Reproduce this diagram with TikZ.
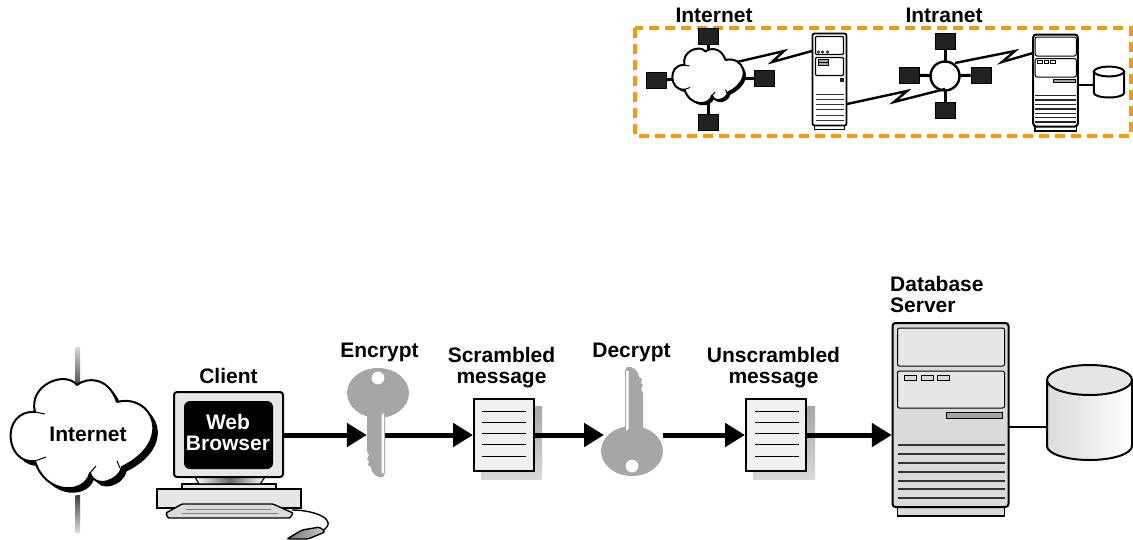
\documentclass[tikz,border=0pt]{standalone}
\usepackage{fontspec}
\setmainfont{Liberation Sans}
\usepackage{tikz}
\usetikzlibrary{positioning,arrows.meta,shapes.geometric}

\definecolor{dashorange}{HTML}{F79A0A}
\definecolor{keygray}{HTML}{A6A6A6}
\definecolor{boxgray}{HTML}{DADADA}
\definecolor{paneltone}{HTML}{E6E6E6}
\definecolor{squaretone}{HTML}{222222}

\tikzset{
    lbl/.style={font=\bfseries\fontsize{21}{21}\selectfont, align=center, inner sep=0pt},
    bigarrow/.style={line width=5pt, -{Triangle[length=20pt,width=23pt]}},
    zap/.style={line width=2.4pt, line join=miter},
    wire/.style={line width=2.2pt},
    spoke/.style={line width=3pt},
    rowline/.style={line width=1.2pt, black!80},
    square/.style={fill=squaretone, draw=black, line width=.6pt, minimum width=20pt, minimum height=16pt, inner sep=0pt},
    page/.style={draw=black, line width=2pt, fill=black!6, minimum width=60pt, minimum height=72pt, inner sep=0pt},
    cloudshape/.pic={
        \def\outline{(-47,-26) .. controls (-54,-53) and (-17,-68) .. (-5,-53)
            .. controls (3,-60) and (26,-63) .. (35,-36)
            .. controls (70,-45) and (93,3) .. (40,29)
            .. controls (38,42) and (13,52) .. (8,35)
            .. controls (3,57) and (-37,57) .. (-47,23)
            .. controls (-77,27) and (-82,-28) .. (-47,-26) -- cycle}
        \fill[black, shift={(4.5,4.5)}] \outline;
        \draw[fill=white, line width=2pt, line join=round] \outline;
        \draw[line width=1pt] (-47,-26) -- (-37,-24) (-47,23) -- (-36,19) (35,23) -- (38,30) (8,35) -- (14,28);
    },
    towerbox/.pic={
        \draw[line width=1.3pt, fill=boxgray] (-53,92) rectangle (54,101);
        \draw[line width=2pt, fill=boxgray, rounded corners=3pt] (-58,-92) rectangle (58,92);
        \draw[line width=1pt, fill=paneltone, rounded corners=2pt] (-53,-87) rectangle (54,-49);
        \draw[line width=1pt, fill=paneltone, rounded corners=2pt] (-53,-44) rectangle (54,-7);
        \foreach \bx in {-46,-29,-13}
            \draw[line width=1pt, fill=boxgray] (\bx,-40) rectangle ++(12,5);
        \draw[line width=1pt, fill=keygray] (-4,-3) rectangle (52,3);
        \foreach \by in {30,39,48,57,66,74,83}
            \draw[rowline] (-53,\by) -- (54,\by);
    },
    minitower/.pic={
        \draw[line width=1pt, fill=white] (-15,42) rectangle (15,48);
        \draw[line width=1.8pt, fill=white, rounded corners=2pt] (-17,-48) rectangle (17,44);
        \draw[line width=1.3pt, rounded corners=1pt] (-14,-45) rectangle (14,-27);
        \draw[line width=1.3pt, rounded corners=1pt] (-14,-24) rectangle (14,-6);
        \foreach \bx in {-11,-7,-2}
            \draw[line width=.6pt, fill=keygray] (\bx,-29.5) circle (1.3);
        \draw[line width=.6pt, fill=keygray] (-11,-22) rectangle (-1,-19) (-11,-19) rectangle (-1,-16);
        \fill[squaretone] (10,-4) rectangle (14,0);
        \foreach \by in {13,18,23,28,34,39}
            \draw[rowline] (-14,\by) -- (14,\by);
    },
    keyshape/.pic={
        \fill[keygray, even odd rule] (0,0) ellipse [x radius=31, y radius=25] (0,-15) circle (6.5);
        \fill[keygray] (-11,20) -- (-11,58) -- (-10,60) -- (-9,62) -- (-11,66) -- (-9,68) -- (-10,72)
            -- (-7,74) -- (-6,78) -- (-3,82) -- (1,84) -- (5,84) -- (7,80) -- (7,20) -- cycle;
        \fill[white] (3.5,22) -- (6,20) -- (6,80) -- (3.5,80) -- cycle;
    },
    can/.pic={
        \draw[line width=2pt, left color=boxgray, right color=white]
            (-42.5,0) -- (-42.5,66) arc [start angle=180, end angle=360, x radius=42.5, y radius=-14]
            -- (42.5,0) -- cycle;
        \draw[line width=2pt, fill=paneltone] (0,0) ellipse [x radius=42.5, y radius=15];
    }
}

\begin{document}
\begin{tikzpicture}[x=1pt,y=-1pt]
    \useasboundingbox (0,0) rectangle (1133,539);

    % top overview
    \draw[dashorange, line width=3.4pt, dash pattern=on 10pt off 6pt] (635,28) rectangle (1131,136);
    \node[lbl] (netcap) at (714,15) {Internet};
    \node[lbl] (intracap) at (944,15) {Intranet};

    \node[square] (sqa) at (708,36) {};
    \node[square] (sqb) at (656,80) {};
    \node[square] (sqc) at (764,78) {};
    \node[square] (sqd) at (708,122) {};
    \coordinate (netmid) at (708,78);
    \path[spoke]
        (sqa) edge (netmid)
        (sqb) edge (netmid)
        (sqc) edge (netmid)
        (sqd) edge (netmid);
    \pic[scale=.5] at (netmid) {cloudshape};

    \node[square] (sqe) at (945,41) {};
    \node[square] (sqf) at (909,75) {};
    \node[square] (sqg) at (981,75) {};
    \node[square] (sqh) at (945,110) {};
    \node[circle, minimum size=29pt, inner sep=0pt] (hub) at (945,76) {};
    \path[spoke]
        (sqe) edge (hub)
        (sqf) edge (hub)
        (sqg) edge (hub)
        (sqh) edge (hub);
    \node[circle, draw=black, line width=2.4pt, fill=white, minimum size=29pt, inner sep=0pt] at (hub) {};

    \pic at (829.5,81.5) {minitower};
    \begin{scope}
        \colorlet{boxgray}{white}
        \colorlet{paneltone}{white}
        \tikzset{rowline/.style={line width=1.2pt, black!85}}
        \pic[xscale=.385,yscale=.5] at (1055.5,80.5) {towerbox};
        \pic[xscale=.355,yscale=.325] at (1109,71.5) {can};
    \end{scope}
    \coordinate (srvain) at (812,51);
    \coordinate (srvaout) at (847,104);
    \coordinate (srvbin) at (1033,53);
    \coordinate (srvbout) at (1078,85);
    \coordinate (netout) at (737,62);
    \coordinate (hubin) at (945,89);
    \coordinate (hubout) at (955,63);
    \coordinate (canin) at (1094,85);
    \draw[zap] (netout) -- (784,51) -- (772,62) -- (srvain);
    \draw[zap] (srvaout) -- (907,91) -- (894,102) -- (hubin);
    \draw[zap] (hubout) -- (1015,51) -- (1002,62) -- (srvbin);
    \draw[wire] (srvbout) -- (canin);

    % lower row
    \shade[top color=black!15, bottom color=black!70] (75.5,347) rectangle (80,385);
    \shade[top color=black!75, bottom color=black!15] (75.5,495) rectangle (80,532);
    \pic at (82,438) {cloudshape};
    \node[lbl] (cloudcap) at (88,434) {Internet};

    % client
    \draw[line width=1.6pt, fill=paneltone] (157,489) rectangle (301,508);
    \draw[line width=1.4pt, fill=paneltone] (182,484) rectangle (276,489);
    \draw[line width=1.2pt, left color=white, right color=white, middle color=black!60] (195,477) -- (265,477) -- (260,484) -- (199,484) -- cycle;
    \node[draw=black, line width=2pt, fill=paneltone, rounded corners=3pt, minimum width=109pt, minimum height=85pt, inner sep=0pt] (monitor) at (228.5,434.5) {};
    \node[fill=black, rounded corners=6pt, minimum width=89pt, minimum height=68pt, inner sep=0pt] (screen) at (228.5,435) {};
    \node[lbl, white] (webcap) at (228,432) {Web\\Browser};
    \node[lbl, above=7pt of monitor] (clientcap) {Client};
    \draw[line width=1.4pt, fill=boxgray, rounded corners=1pt] (182,504) -- (273,504) -- (293,513) -- (290,518) -- (168,518) -- (166,513) -- cycle;
    \draw[line width=1pt, black!50] (186,509) -- (271,509) (182,513) -- (278,513);
    \draw[line width=1.4pt] (292,510) .. controls (315,510) and (340,520) .. (322,531);
    \draw[line width=1.4pt, left color=black!55, right color=black!20, rounded corners=2pt] (287,539) -- (302,530) -- (320,527) -- (325,532) -- (308,539) -- cycle;

    % keys and pages
    \node[minimum width=18pt, minimum height=4pt, inner sep=0pt] (enckey) at (376,435) {};
    \node[page] (msga) at (504,435) {};
    \coordinate (deckeyin) at (604,435);
    \coordinate (deckeyout) at (663,435);
    \node[page] (msgb) at (776,435) {};
    \node[minimum width=117pt, minimum height=184pt, inner sep=0pt] (dbserver) at (950.5,415) {};

    \shade[top color=black!35, bottom color=black!15] (481,406) rectangle (542,479);
    \shade[top color=black!35, bottom color=black!15] (753,406) rectangle (815,479);
    \node[page] at (msga) {};
    \node[page] at (msgb) {};
    \foreach \ly in {411,422,433.5,444,456} {
        \draw[line width=1pt] (482,\ly) -- (526,\ly);
        \draw[line width=1pt] (755,\ly) -- (799,\ly);
    }

    \draw[bigarrow] (monitor.east |- enckey) -- (enckey.west);
    \draw[bigarrow] (enckey.east) -- (msga.west);
    \draw[bigarrow] (msga.east |- deckeyin) -- (deckeyin);
    \draw[bigarrow] (deckeyout) -- (msgb.west);
    \draw[bigarrow] (msgb.east |- enckey) -- (dbserver.west |- enckey);

    \pic at (378,393) {keyshape};
    \pic[rotate=180] at (632,451) {keyshape};

    \node[lbl] (enccap) at (379.5,352.5) {Encrypt};
    \node[lbl, above=10pt of msga, xshift=-2.5pt] (msgacap) {Scrambled\\message};
    \node[lbl] (deccap) at (631.5,352.5) {Decrypt};
    \node[lbl, above=10pt of msgb, xshift=-2.5pt] (msgbcap) {Unscrambled\\message};

    % database
    \pic at (dbserver) {towerbox};
    \node[lbl, align=left, anchor=south west] (dbcap) at (890,313) {Database\\Server};
    \pic at (1089.5,380) {can};
    \coordinate (canport) at (1047,427);
    \draw[wire] (dbserver.east |- canport) -- (canport);
\end{tikzpicture}
\end{document}
